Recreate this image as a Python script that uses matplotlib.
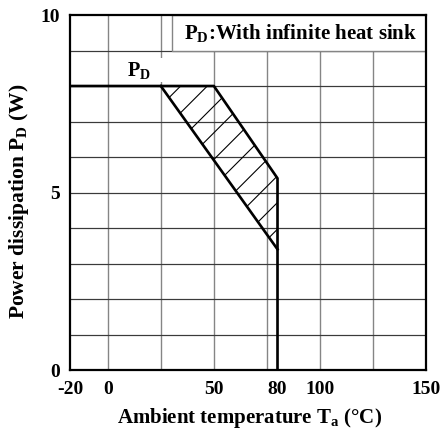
import matplotlib
matplotlib.use("Agg")
import matplotlib.pyplot as plt
from matplotlib.patches import Rectangle

# dpi 80 so the "/" hatch comes out about as dense as in the sheet;
# sizes below are in points at this dpi
DPI = 80

plt.rcParams['font.family'] = ['Liberation Serif', 'DejaVu Serif']
plt.rcParams['font.weight'] = 'bold'
plt.rcParams['mathtext.fontset'] = 'custom'
plt.rcParams['mathtext.rm'] = 'Liberation Serif:bold'
plt.rcParams['mathtext.bf'] = 'Liberation Serif:bold'
plt.rcParams['hatch.linewidth'] = 1.0

# Pd derating, with infinite heat sink
outer_t = [-20, 50, 80, 80]
outer_p = [8, 8, 5.4, 0]
inner_t = [25, 80]
inner_p = [8, 3.4]
# hatched band between the two curves
shade_t = [25, 50, 80, 80]
shade_p = [8, 8, 5.4, 3.4]

x_ticks = [-20, 0, 50, 80, 100, 150]
y_ticks = [0, 5, 10]
x_grid = [0, 25, 50, 75, 100, 125]
y_grid = [1, 2, 3, 4, 5, 6, 7, 8, 9]

fig = plt.figure(figsize=(444 / DPI, 430 / DPI), dpi=DPI)
ax = fig.add_axes([0.1577, 0.1395, 0.8018, 0.8256])

# the -20..0 part of the axis is squeezed in the original sheet
x_left = -17.8
ax.set_xlim(x_left, 150)
ax.set_ylim(0, 10)

for t in x_grid:
    ax.axvline(t, color='#858585', lw=1.25, zorder=1)
for p in y_grid:
    ax.axhline(p, color='#3a3a3a', lw=1.1, zorder=1)

ax.fill(shade_t, shade_p, facecolor='none', edgecolor='black', hatch='/', lw=0, zorder=2)
ax.plot(outer_t, outer_p, color='black', lw=2.4, zorder=4)
ax.plot(inner_t, inner_p, color='black', lw=2.4, zorder=4)

# legend-like box in the top cell row
ax.add_patch(Rectangle((30.2, 9), 150 - 30.2, 1, facecolor='white',
                       edgecolor='#858585', lw=1.25, zorder=3))
ax.text(91, 9.47, r'P$_\mathregular{D}$:With infinite heat sink', ha='center',
        va='center', fontsize=18.8, fontweight='bold', zorder=5)

# white patch behind the Pd label
ax.add_patch(Rectangle((5, 8.11), 40, 0.67, facecolor='white', edgecolor='none', zorder=2))
ax.text(14.5, 8.42, r'P$_\mathregular{D}$', ha='center', va='center', fontsize=18.2,
        fontweight='bold', zorder=5)

ax.set_xticks([x_left] + x_ticks[1:])
ax.set_xticklabels([str(v) for v in x_ticks], fontsize=17.5, fontweight='bold')
ax.set_yticks(y_ticks)
ax.set_yticklabels([str(v) for v in y_ticks], fontsize=17.5, fontweight='bold')
ax.tick_params(axis='x', length=0, pad=10)
ax.tick_params(axis='y', length=0, pad=8.8)

for s in ax.spines.values():
    s.set_linewidth(2.0)
    s.set_color('black')
    s.set_zorder(6)

fig.text(0.561, 0.0163, r'Ambient temperature T$_\mathregular{a}$ (°C)', ha='center',
         va='baseline', fontsize=18.8, fontweight='bold')
fig.text(0.043, 0.533, r'Power dissipation P$_\mathregular{D}$ (W)', ha='center',
         va='center', rotation=90, fontsize=19.4, fontweight='bold')

fig.savefig('out.png', dpi=DPI)
